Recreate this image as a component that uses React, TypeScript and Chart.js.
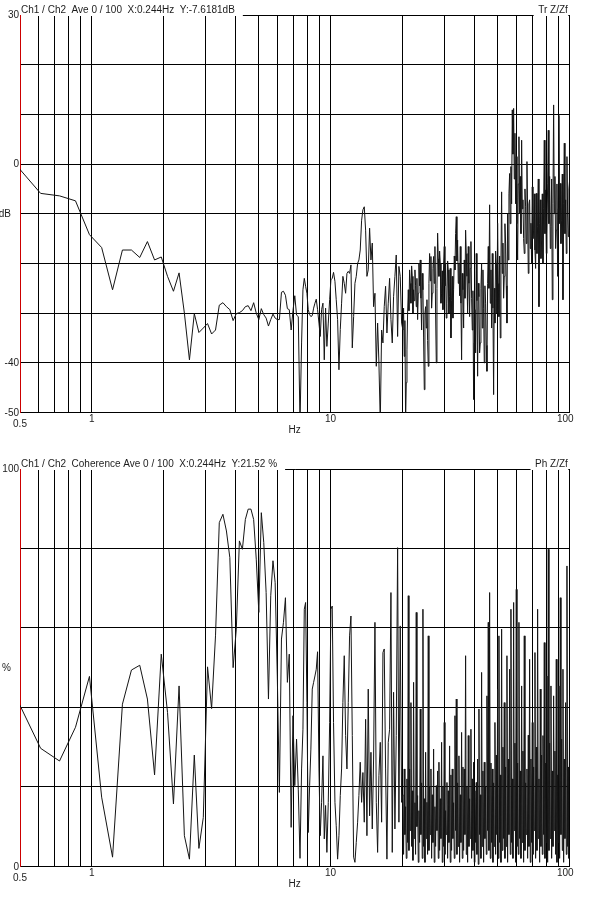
import React, { useEffect, useRef } from 'react';
import { Chart, registerables } from 'chart.js';

Chart.register(...registerables);

// Frequency bins (Hz) of the low band, one per FFT line
const LOW_FREQS_HZ = [
  0.488, 0.610, 0.732, 0.854, 0.977, 1.099, 1.221, 1.343, 1.465, 1.587,
  1.709, 1.831, 1.953, 2.075, 2.197, 2.319, 2.441, 2.563, 2.686, 2.808,
  2.930, 3.052, 3.174, 3.296, 3.418, 3.540, 3.662, 3.784, 3.906, 4.028,
  4.150, 4.272, 4.395, 4.517, 4.639, 4.761, 4.883, 5.005, 5.127, 5.249,
  5.371, 5.493, 5.615, 5.737, 5.859, 5.981, 6.104, 6.226, 6.348, 6.470,
  6.592, 6.714, 6.836, 6.958, 7.080, 7.202, 7.324, 7.446,
];

// Sampled frequencies (Hz), 7.5 - 20 Hz
const MID_FREQS_HZ = [
  7.56, 7.66, 7.76, 7.86, 7.96, 8.06, 8.17, 8.27, 8.38, 8.49,
  8.60, 8.71, 8.82, 8.94, 9.05, 9.17, 9.29, 9.41, 9.53, 9.65,
  9.78, 9.91, 10.03, 10.16, 10.29, 10.43, 10.56, 10.70, 10.84, 10.98,
  11.12, 11.26, 11.41, 11.56, 11.71, 11.86, 12.01, 12.17, 12.33, 12.49,
  12.65, 12.81, 12.98, 13.14, 13.31, 13.49, 13.66, 13.84, 14.02, 14.20,
  14.38, 14.57, 14.76, 14.95, 15.14, 15.34, 15.54, 15.74, 15.94, 16.15,
  16.36, 16.57, 16.78, 17.00, 17.22, 17.44, 17.67, 17.90, 18.13, 18.36,
  18.60, 18.84, 19.09, 19.33, 19.58, 19.84,
];

// Sampled frequencies (Hz), dense band 20 - 100 Hz
const DENSE_FREQS_HZ = [
  20.09, 20.22, 20.35, 20.48, 20.62, 20.75, 20.89, 21.02, 21.16, 21.29,
  21.43, 21.57, 21.71, 21.85, 21.99, 22.13, 22.27, 22.41, 22.56, 22.70,
  22.85, 23.00, 23.15, 23.30, 23.45, 23.60, 23.75, 23.90, 24.06, 24.21,
  24.37, 24.53, 24.69, 24.85, 25.01, 25.17, 25.33, 25.49, 25.66, 25.82,
  25.99, 26.16, 26.33, 26.50, 26.67, 26.84, 27.01, 27.18, 27.36, 27.54,
  27.72, 27.90, 28.08, 28.26, 28.44, 28.62, 28.81, 29.00, 29.18, 29.37,
  29.56, 29.75, 29.94, 30.13, 30.33, 30.52, 30.72, 30.92, 31.12, 31.32,
  31.52, 31.72, 31.93, 32.13, 32.34, 32.55, 32.76, 32.97, 33.19, 33.40,
  33.62, 33.83, 34.05, 34.27, 34.49, 34.71, 34.94, 35.16, 35.39, 35.62,
  35.85, 36.08, 36.31, 36.54, 36.78, 37.02, 37.26, 37.50, 37.74, 37.98,
  38.23, 38.47, 38.72, 38.97, 39.23, 39.48, 39.73, 39.99, 40.25, 40.51,
  40.77, 41.03, 41.30, 41.56, 41.83, 42.10, 42.37, 42.64, 42.92, 43.20,
  43.48, 43.76, 44.04, 44.32, 44.61, 44.90, 45.19, 45.48, 45.77, 46.07,
  46.37, 46.67, 46.97, 47.27, 47.57, 47.88, 48.19, 48.50, 48.81, 49.13,
  49.45, 49.77, 50.09, 50.41, 50.73, 51.06, 51.39, 51.72, 52.06, 52.39,
  52.73, 53.07, 53.41, 53.75, 54.10, 54.45, 54.80, 55.15, 55.51, 55.87,
  56.23, 56.59, 56.96, 57.33, 57.70, 58.07, 58.45, 58.82, 59.20, 59.58,
  59.97, 60.36, 60.75, 61.14, 61.53, 61.93, 62.33, 62.73, 63.14, 63.54,
  63.95, 64.36, 64.78, 65.20, 65.62, 66.04, 66.47, 66.90, 67.33, 67.76,
  68.20, 68.64, 69.08, 69.53, 69.98, 70.43, 70.88, 71.34, 71.80, 72.26,
  72.73, 73.20, 73.67, 74.15, 74.63, 75.11, 75.59, 76.08, 76.57, 77.06,
  77.56, 78.06, 78.57, 79.08, 79.59, 80.10, 80.62, 81.14, 81.66, 82.19,
  82.72, 83.25, 83.79, 84.33, 84.87, 85.42, 85.97, 86.52, 87.08, 87.64,
  88.21, 88.78, 89.35, 89.93, 90.51, 91.09, 91.68, 92.27, 92.87, 93.47,
  94.07, 94.68, 95.29, 95.90, 96.52, 97.14, 97.77, 98.40, 99.04, 99.67,
  100.3,
];

// Transfer function Z/Zf magnitude (dB)
const TF_LOW_DB = [
  -0.5, -5.9, -6.4, -7.4, -14.2, -16.8, -25.3, -17.3, -17.3, -18.8,
  -15.6, -19.3, -18.7, -22.6, -25.6, -21.9, -30.0, -39.4, -30.1, -33.9,
  -33.0, -32.1, -34.2, -33.4, -28.4, -27.9, -28.7, -29.3, -31.5, -30.1,
  -29.9, -29.5, -28.7, -28.5, -29.5, -27.9, -30.0, -31.3, -29.1, -30.3,
  -31.0, -32.6, -31.3, -30.2, -31.0, -31.3, -31.3, -25.8, -25.6, -26.4,
  -29.1, -29.3, -33.4, -29.5, -26.5, -30.4, -30.7, -52,
];

const TF_MID_DB = [
  -36.0, -25.3, -23.0, -24.6, -26.0, -29.3, -30.3, -30.7, -30.5, -29.0,
  -28.0, -27.2, -29.3, -32.0, -34.7, -29.3, -28.0, -39.4, -29.0, -36.7,
  -32.0, -27.3, -23.3, -23.0, -21.8, -23.6, -27.3, -31.3, -41.4, -33.3,
  -28.0, -22.6, -24.0, -26.0, -22.0, -21.6, -22.0, -20.3, -37.0, -30.7,
  -24.0, -22.6, -20.0, -19.3, -17.3, -11.3, -9.2, -8.6, -13.3, -22.6,
  -21.3, -12.9, -19.3, -15.9, -28.7, -26.0, -40.7, -32.0, -40.0, -52,
  -33.4, -36.0, -28.7, -24.6, -34.0, -28.0, -23.0, -31.3, -36.0, -26.7,
  -22.6, -18.3, -34.7, -20.6, -22.6, -32.0,
];

const TF_DENSE_DB = [
  -33.4, -29.0, -38.7, -31.5, -52, -44.0, -37.4, -30.0, -25.3, -29.5,
  -21.3, -24.0, -28.0, -20.5, -22.6, -30.0, -25.3, -27.5, -21.3, -24.5,
  -28.7, -23.0, -31.3, -26.0, -20.0, -24.5, -19.3, -27.0, -33.4, -22.0,
  -25.3, -35.0, -45.4, -30.0, -28.7, -33.0, -27.3, -35.5, -40.7, -24.0,
  -18.0, -23.5, -18.6, -29.0, -26.0, -21.0, -18.6, -24.0, -16.6, -30.0,
  -40.0, -25.0, -13.9, -19.0, -22.6, -17.5, -20.0, -28.0, -26.0, -21.5,
  -29.3, -20.0, -16.6, -24.5, -20.0, -31.0, -28.0, -19.5, -21.3, -30.0,
  -26.7, -21.0, -35.0, -27.5, -22.6, -31.0, -25.3, -18.5, -21.3, -14.0,
  -10.6, -19.5, -15.3, -24.0, -20.0, -26.5, -16.6, -28.0, -39.4, -22.0,
  -25.3, -33.0, -19.3, -27.0, -13.3, -18.0, -22.6, -30.0, -16.6, -24.0,
  -30.7, -21.0, -15.6, -27.0, -33.4, -25.5, -47.4, -36.0, -29.3, -38.0,
  -18.0, -27.5, -42.7, -24.0, -26.7, -38.0, -36.0, -25.0, -20.0, -33.0,
  -21.3, -29.0, -40.0, -24.5, -28.0, -36.5, -41.7, -24.0, -16.6, -25.0,
  -8.2, -28.0, -21.3, -33.0, -18.0, -29.0, -46.4, -25.0, -32.0, -17.5,
  -20.0, -30.0, -11.9, -24.0, -30.7, -18.5, -35.0, -20.0, -5.6, -22.0,
  -15.9, -27.0, -22.6, -12.0, -15.9, -24.5, -32.0, -10.0, -19.3, -6.0,
  -1.9, -12.0, -0.5, -8.0, 10.9, 2.0, 11.2, -3.0, 6.2, -8.0,
  1.5, -12.0, -19.3, -4.0, 5.5, -10.0, -2.5, -14.0, 4.8, -9.0,
  -7.2, -15.0, -18.0, -5.0, -8.6, -16.0, 0.5, -10.0, -22.0, -8.0,
  -7.2, -17.0, -11.9, -20.0, -4.6, -15.0, -13.3, -6.0, -17.3, -21.0,
  -5.9, -18.0, -12.6, -3.0, -28.7, -12.0, -7.2, -19.0, -15.3, -6.0,
  -20.0, -9.0, 4.8, -14.0, -5.2, -18.0, -13.9, -4.0, 6.8, -12.0,
  -2.5, -17.0, -12.6, -3.0, -27.3, -8.0, 11.9, -10.0, -2.5, -17.0,
  -13.3, -4.0, -22.6, -9.0, 9.8, -12.0, -3.9, -16.0, -11.3, -2.0,
  -27.3, -8.0, 4.2, -14.0, -7.2, -18.0, 1.5, -10.0, -14.6, -5.0,
  -3.2,
];

// Coherence (%)
const COH_LOW_PCT = [
  41.8, 29.7, 26.5, 35.0, 47.8, 17.4, 2.3, 40.8, 49.4, 50.6,
  42.1, 23.0, 53.4, 38.7, 15.7, 45.4, 7.7, 1.8, 28.0, 4.5,
  12.3, 50.2, 39.7, 58.0, 86.5, 88.6, 84.4, 77.7, 50.0, 59.7,
  81.9, 79.8, 87.3, 89.9, 89.9, 87.3, 77.3, 63.9, 89.0, 81.5,
  68.9, 42.1, 68.1, 76.9, 71.4, 48.0, 18.6, 57.2, 61.4, 67.6,
  46.3, 53.4, 9.8, 37.9, 20.3, 32.0, 19.4, 2.0,
];

const COH_MID_PCT = [
  24.5, 34.5, 64.7, 66.4, 41.2, 8.5, 20.3, 29.5, 44.6, 46.3,
  47.9, 49.6, 54.0, 24.5, 7.7, 16.1, 27.8, 6.9, 15.3, 3.5,
  16.1, 36.2, 64.7, 65.5, 36.2, 16.1, 10.2, 1.8, 7.7, 17.8,
  24.5, 41.2, 53.0, 32.9, 24.5, 41.2, 58.0, 63.0, 32.9, 2.3,
  1.0, 6.0, 11.1, 17.8, 26.2, 16.1, 23.6, 11.1, 37.0, 7.7,
  44.6, 12.7, 28.7, 9.4, 27.0, 61.4, 16.1, 3.5, 22.8, 31.2,
  11.1, 53.8, 54.7, 24.5, 1.8, 31.2, 34.5, 68.9, 3.5, 43.8,
  9.4, 32.9, 80.2, 11.1, 60.5, 16.1,
];

const COH_DENSE_PCT = [
  18, 3, 24.5, 8, 15, 2, 22, 6, 68.1, 4,
  24.5, 9, 41.2, 5, 19, 1.5, 46.3, 7, 16, 3,
  63.9, 10, 17.8, 1, 14, 6, 39.6, 8, 21, 2,
  64.7, 5, 17, 1, 28.7, 7, 16.1, 3, 58.0, 4,
  20, 8, 24.5, 2, 18, 6, 29.5, 1, 15, 5,
  20.3, 9, 24, 2, 26.2, 4, 17, 7, 31.2, 1,
  20, 5, 36.2, 3, 14, 8, 21.1, 2, 19, 6,
  30.3, 1, 23, 4, 24.5, 7, 16, 2, 37.9, 9,
  42.1, 3, 21, 5, 27.8, 1, 18, 6, 33.7, 2,
  25, 4, 24.5, 8, 53.0, 3, 20, 1, 32.9, 5,
  17, 7, 34.5, 2, 22, 4, 26.2, 1, 19, 6,
  21.1, 3, 27, 0.5, 39.6, 8, 18, 2, 48.8, 5,
  24, 1, 26.2, 7, 20, 3, 42.9, 9, 61.4, 4,
  68.9, 2, 26, 6, 24.5, 1, 21, 5, 36.2, 3,
  28, 8, 44.6, 2, 58.0, 6, 23, 1, 59.7, 4,
  30, 7, 41.2, 2, 25, 5, 53.0, 1, 27, 8,
  49.6, 3, 64.7, 6, 22, 2, 66.4, 9, 31, 1,
  69.7, 5, 26, 3, 61.4, 7, 24, 2, 45.4, 6,
  29, 1, 58.0, 4, 21, 8, 24.5, 2, 33, 5,
  52.1, 1, 27, 6, 36.2, 3, 25, 9, 53.8, 2,
  30, 4, 64.7, 7, 22, 1, 44.6, 5, 28, 3,
  32.9, 8, 56.3, 2, 26, 6, 47.9, 1, 79.8, 4,
  31, 7, 45.4, 2, 24, 5, 42.9, 9, 29, 3,
  52.1, 1, 23, 6, 45.4, 2, 67.6, 8, 32, 4,
  49.6, 1, 27, 7, 41.2, 3, 75.6, 5, 25, 2,
  42.9,
];

// Axes
const X_GRID_HZ = [0.6, 0.7, 0.8, 0.9, 1, 2, 3, 4, 5, 6, 7, 8, 9, 10, 20, 30, 40, 50, 60, 70, 80, 90, 100];
const X_LABEL_HZ = [0.5, 1, 10, 100];
const X_LABEL_TEXT = ['0.5', '1', '10', '100'];

const TF_Y_LABEL_VALUES = [30, 0, -40, -50];
const TF_Y_LABEL_TEXT = ['30', '0', '-40', '-50'];
const COH_Y_LABEL_VALUES = [100, 0];
const COH_Y_LABEL_TEXT = ['100', '0'];

const TF_TITLE = 'Ch1 / Ch2  Ave 0 / 100  X:0.244Hz  Y:-7.6181dB';
const TF_TAG = 'Tr Z/Zf';
const COH_TITLE = 'Ch1 / Ch2  Coherence Ave 0 / 100  X:0.244Hz  Y:21.52 %';
const COH_TAG = 'Ph Z/Zf';

const FONT = '10px "Liberation Sans", Arial, sans-serif';
const TEXT_COLOR = '#1c1c1c';

const labelPlugin = {
  id: 'fftLabels',
  afterDraw(chart: any, _args: any, opts: any) {
    const ctx = chart.ctx as CanvasRenderingContext2D;
    const { left, right, top, bottom } = chart.chartArea;
    const xs = chart.scales.x;
    const ys = chart.scales.y;
    ctx.save();
    ctx.font = FONT;

    const tw = ctx.measureText(opts.title).width;
    ctx.fillStyle = '#ffffff';
    ctx.fillRect(left + 1, 0, tw + 8, top + 1);
    const rw = ctx.measureText(opts.tag).width;
    ctx.fillRect(right - rw - 6, 0, rw + 5, top + 1);
    ctx.fillStyle = TEXT_COLOR;
    ctx.textBaseline = 'alphabetic';
    ctx.textAlign = 'left';
    ctx.fillText(opts.title, left + 1, top - 1.7);
    ctx.textAlign = 'right';
    ctx.fillText(opts.tag, right - 1.5, top - 1.7);

    ctx.textBaseline = 'middle';
    ctx.textAlign = 'right';
    const yv: number[] = opts.yValues;
    const yt: string[] = opts.yTexts;
    for (let i = 0; i < yv.length; i++) {
      ctx.fillText(yt[i], left - 1, ys.getPixelForValue(yv[i]) + 0.5);
    }
    ctx.fillText(opts.unit, left - 9, ys.getPixelForValue(opts.unitValue) + 0.5);

    ctx.textAlign = 'center';
    for (let i = 0; i < X_LABEL_HZ.length; i++) {
      const v = X_LABEL_HZ[i];
      let px = xs.getPixelForValue(v);
      let py = bottom + 6.5;
      if (v === 0.5) py = bottom + 11.5;
      if (v === 100) px -= 4;
      ctx.fillText(X_LABEL_TEXT[i], px, py);
    }
    ctx.fillText('Hz', (left + right) / 2, bottom + 17.5);
    ctx.restore();
  },
};

function buildPoints(lowY: number[], midY: number[], denseY: number[]) {
  const pts: { x: number; y: number }[] = [];
  LOW_FREQS_HZ.forEach((f, i) => pts.push({ x: f, y: lowY[i] }));
  MID_FREQS_HZ.forEach((f, i) => pts.push({ x: f, y: midY[i] }));
  DENSE_FREQS_HZ.forEach((f, i) => pts.push({ x: f, y: denseY[i] }));
  return pts;
}

function makeConfig(
  points: { x: number; y: number }[],
  yMin: number,
  yMax: number,
  yStep: number,
  padding: { top: number; bottom: number },
  labels: any
): any {
  return {
    type: 'scatter',
    data: {
      datasets: [
        {
          data: points,
          showLine: true,
          borderColor: '#151515',
          borderWidth: 1,
          pointRadius: 0,
          pointHoverRadius: 0,
          tension: 0,
          borderJoinStyle: 'bevel',
        },
      ],
    },
    options: {
      responsive: false,
      animation: false,
      events: [],
      layout: { padding: { left: 20, right: 20.7, top: padding.top, bottom: padding.bottom } },
      plugins: {
        legend: { display: false },
        tooltip: { enabled: false },
        fftLabels: labels,
      },
      scales: {
        x: {
          type: 'logarithmic',
          min: 0.5,
          max: 100,
          afterBuildTicks: (s: any) => {
            s.ticks = X_GRID_HZ.map((v) => ({ value: v }));
          },
          afterFit: (s: any) => {
            s.height = 0;
          },
          ticks: { display: false },
          grid: { color: '#000000', lineWidth: 1, drawTicks: false },
          border: { display: true, color: '#000000', width: 1 },
        },
        y: {
          type: 'linear',
          min: yMin,
          max: yMax,
          ticks: { display: false, stepSize: yStep },
          afterFit: (s: any) => {
            s.width = 0;
          },
          grid: { color: '#000000', lineWidth: 1, drawTicks: false },
          border: { display: true, color: '#cc0000', width: 1 },
        },
      },
    },
    plugins: [labelPlugin],
  };
}

export default function App() {
  const topRef = useRef<HTMLCanvasElement>(null);
  const botRef = useRef<HTMLCanvasElement>(null);

  useEffect(() => {
    document.body.style.margin = '0';
    const c1 = new Chart(
      topRef.current as HTMLCanvasElement,
      makeConfig(buildPoints(TF_LOW_DB, TF_MID_DB, TF_DENSE_DB), -50, 30, 10, { top: 15, bottom: 37.5 }, {
        title: TF_TITLE,
        tag: TF_TAG,
        yValues: TF_Y_LABEL_VALUES,
        yTexts: TF_Y_LABEL_TEXT,
        unit: 'dB',
        unitValue: -10,
      })
    );
    const c2 = new Chart(
      botRef.current as HTMLCanvasElement,
      makeConfig(buildPoints(COH_LOW_PCT, COH_MID_PCT, COH_DENSE_PCT), 0, 100, 20, { top: 19, bottom: 34.7 }, {
        title: COH_TITLE,
        tag: COH_TAG,
        yValues: COH_Y_LABEL_VALUES,
        yTexts: COH_Y_LABEL_TEXT,
        unit: '%',
        unitValue: 50,
      })
    );
    return () => {
      c1.destroy();
      c2.destroy();
    };
  }, []);

  return (
    <div
      style={{
        position: 'absolute',
        left: 0,
        top: 0,
        width: 590,
        height: 901,
        background: '#ffffff',
        overflow: 'hidden',
      }}
    >
      <canvas
        ref={topRef}
        width={590}
        height={450}
        style={{ position: 'absolute', left: 0, top: 0, width: 590, height: 450 }}
      />
      <canvas
        ref={botRef}
        width={590}
        height={451}
        style={{ position: 'absolute', left: 0, top: 450, width: 590, height: 451 }}
      />
    </div>
  );
}
